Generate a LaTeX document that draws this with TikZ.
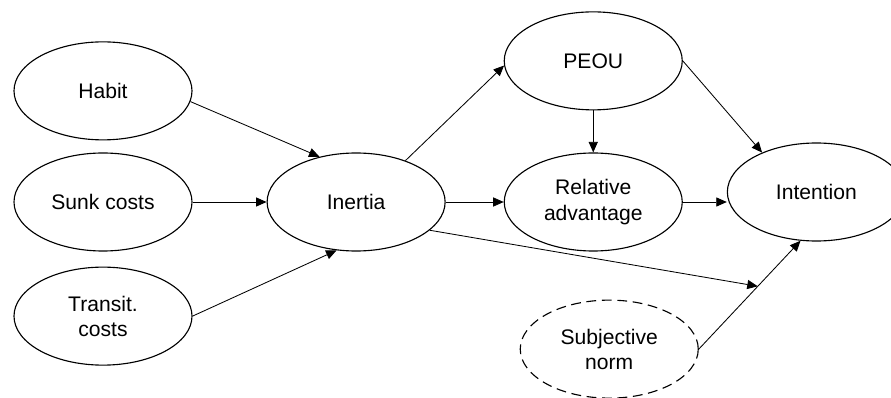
\documentclass[tikz,border=0pt]{standalone}
\usepackage{fontspec}
\setmainfont{Liberation Sans}
\usetikzlibrary{arrows.meta, positioning, shapes, calc}

\begin{document}
\begin{tikzpicture}[
        node distance=1.5cm,
        construct/.style={ellipse, draw, line width=0.8pt, minimum width=4.45cm, minimum height=2.45cm, inner sep=0pt, align=center, font=\fontsize{15}{18}\selectfont},
        moderator/.style={construct, dash pattern=on 7pt off 4pt},
        arrow/.style={line width=0.6pt, -{Triangle[length=7.5pt, width=6.5pt]}}
    ]
        \useasboundingbox (0,0) rectangle (22.275,9.925);

        \node[construct] (sunk) at (2.575,4.875) {Sunk costs};
        \node[construct, above=0.3cm of sunk] (habit) {Habit};
        \node[construct, below=0.375cm of sunk] (transit) {Transit.\\costs};
        \node[construct, right=1.85cm of sunk] (inertia) {Inertia};
        \node[construct, right=1.45cm of inertia] (reladv) {Relative\\advantage};
        \node[construct, above=1.05cm of reladv] (peou) {PEOU};
        \node[construct, right=1.1cm of reladv, yshift=0.25cm] (intention) {Intention};
        \node[moderator, below=1.2cm of reladv, xshift=0.4cm] (subjnorm) {Subjective\\norm};
        \coordinate (moderation) at ($(subjnorm.east)!0.58!(intention.252)$);

        \draw[arrow] (habit.-7) -- (inertia.129);
        \draw[arrow] (sunk.east) -- (inertia.west);
        \draw[arrow] (transit.east) -- (inertia.248);
        \draw[arrow] (inertia.40) -- (peou.183);
        \draw[arrow] (inertia.east) -- (reladv.west);
        \draw[arrow] (inertia.-21) -- (moderation);
        \draw[arrow] (peou.south) -- (reladv.north);
        \draw[arrow] (peou.east) -- (intention.144);
        \draw[arrow] (reladv.east) -- (reladv.east -| intention.west);
        \draw[arrow] (subjnorm.east) -- (intention.252);
    \end{tikzpicture}
\end{document}
